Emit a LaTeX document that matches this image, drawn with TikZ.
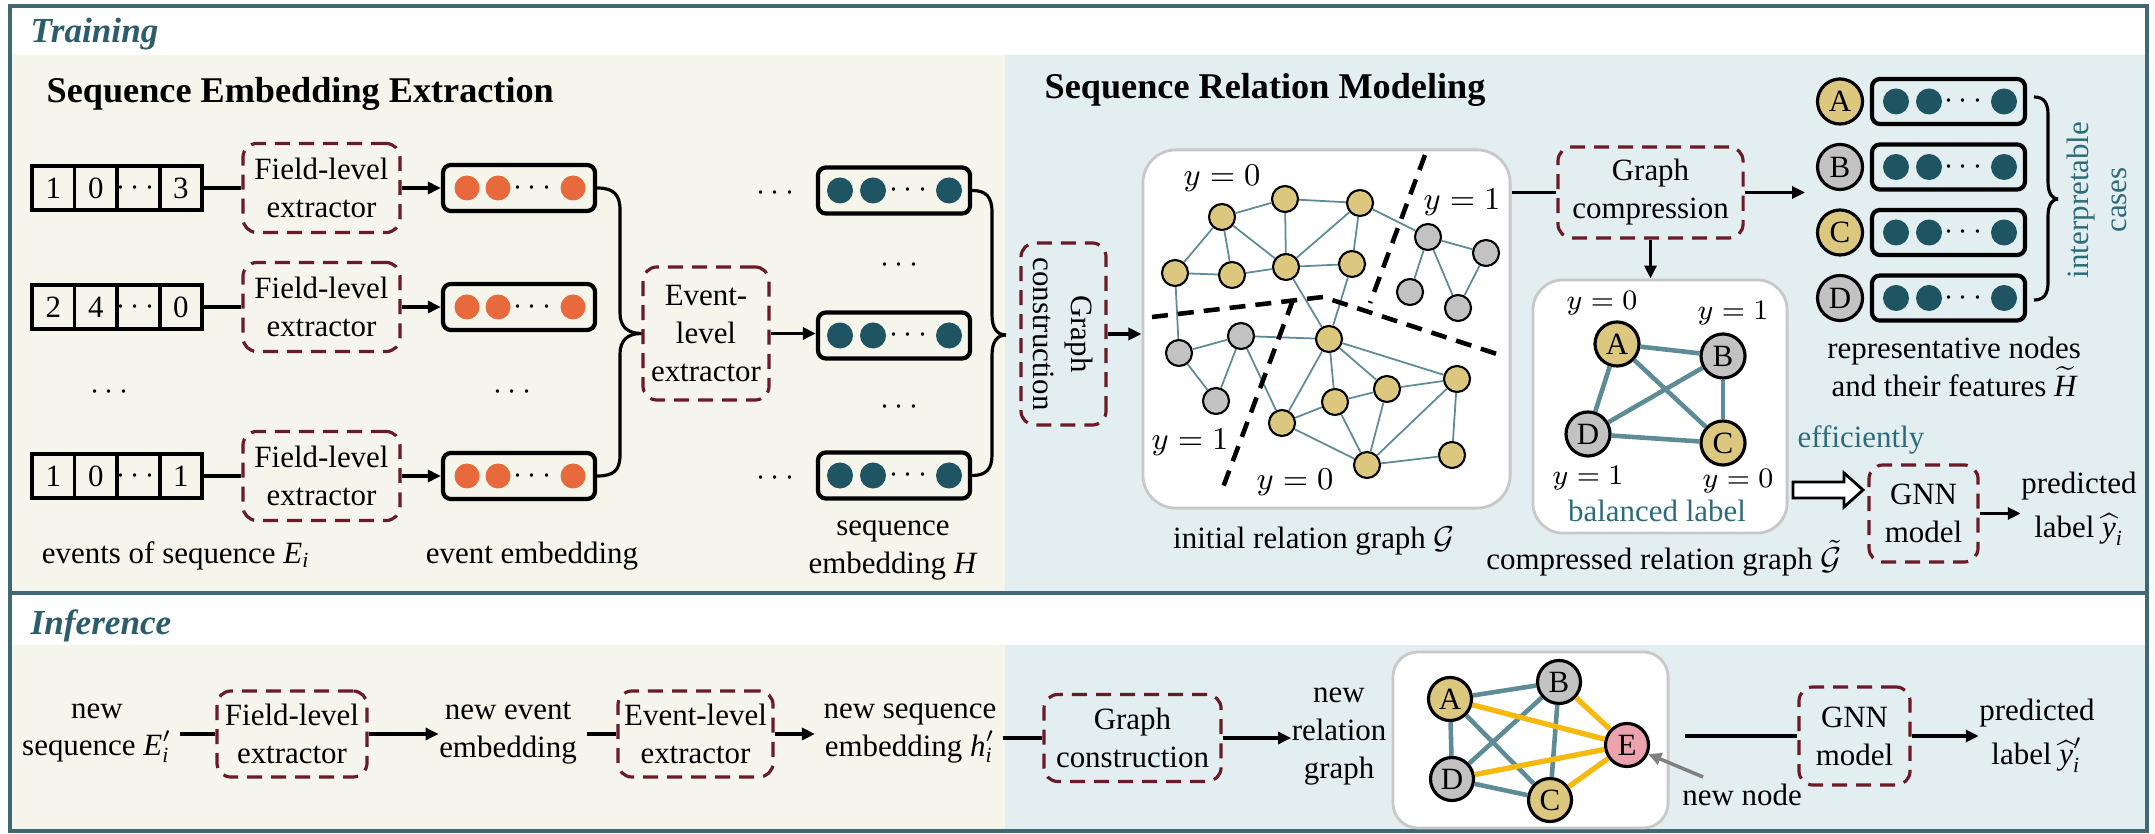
\documentclass[tikz,border=0pt]{standalone}
\usepackage{amsmath}
\usepackage{fontspec}
\setmainfont{Liberation Serif}
\usetikzlibrary{arrows.meta}
\definecolor{titleteal}{HTML}{2B5D6C}
\definecolor{framecol}{HTML}{3F6873}
\definecolor{beigebg}{HTML}{F6F5EC}
\definecolor{bluebg}{HTML}{E3EEF1}
\definecolor{dred}{HTML}{6B1A28}
\definecolor{orangec}{HTML}{E8693B}
\definecolor{dtealc}{HTML}{1F5563}
\definecolor{ynode}{HTML}{DCC77F}
\definecolor{gnode}{HTML}{C2C2C2}
\definecolor{edgecol}{HTML}{5D8C96}
\definecolor{goldc}{HTML}{F5B90F}
\definecolor{pinkc}{HTML}{ECA3AD}
\definecolor{labteal}{HTML}{2E6B7A}
\definecolor{gboxc}{HTML}{C8C8C8}
\newcommand{\ti}[1]{\textit{#1}}
\begin{document}
\begin{tikzpicture}[x=0.01cm,y=-0.01cm,
  font=\fontsize{8.8}{10.8}\selectfont,
  dbox/.style={draw=dred, line width=0.9pt, dash pattern=on 0.15cm off 0.09cm, rounded corners=0.14cm, align=center, inner sep=0pt},
  embbox/.style={draw=black, line width=1.2pt, rounded corners=0.08cm, minimum width=1.52cm, minimum height=0.46cm, inner sep=0pt},
  cell/.style={draw=black, line width=0.9pt, minimum width=0.425cm, minimum height=0.44cm, inner sep=0pt},
  odot/.style={circle, fill=orangec, minimum size=0.25cm, inner sep=0pt},
  tdot/.style={circle, fill=dtealc, minimum size=0.26cm, inner sep=0pt},
  yn/.style={circle, draw=black, line width=0.6pt, fill=ynode, minimum size=0.26cm, inner sep=0pt},
  gn/.style={circle, draw=black, line width=0.6pt, fill=gnode, minimum size=0.26cm, inner sep=0pt},
  ed/.style={draw=edgecol, line width=0.5pt},
  ted/.style={draw=edgecol, line width=1.3pt},
  gld/.style={draw=goldc, line width=1.5pt},
  big/.style={circle, draw=black, line width=0.9pt, minimum size=0.44cm, inner sep=0pt},
  arr/.style={-{Triangle[length=0.13cm,width=0.12cm]}, line width=0.9pt},
  ln/.style={line width=0.9pt},
  gbox/.style={draw=gboxc, line width=0.8pt, fill=white, inner sep=0pt},
  sepl/.style={draw=black, line width=1.3pt, dash pattern=on 0.16cm off 0.1cm},
  ttl/.style={font=\fontsize{10}{12}\selectfont\bfseries\itshape, text=titleteal, anchor=base west, inner sep=0pt},
  hd/.style={font=\fontsize{10.3}{12}\selectfont\bfseries, anchor=base west, inner sep=0pt},
  txt/.style={align=center, inner sep=0pt},
]
% backgrounds
\fill[white] (0,0) rectangle (2155,834);
\useasboundingbox (0,0) rectangle (2155,834);
\fill[beigebg] (11,55) rectangle (1005,592);
\fill[bluebg] (1005,55) rectangle (2146,592);
\fill[beigebg] (11,645) rectangle (1005,830);
\fill[bluebg] (1005,645) rectangle (2146,830);
\draw[framecol, line width=1pt] (10,6) rectangle (2147,831);
\draw[framecol, line width=1pt] (10,593) -- (2147,593);

% titles
\node[ttl] (tTrain) at (30,43) {Training};
\node[ttl] (tInf) at (30,635) {Inference};
\node[hd] (hSEE) at (46,103) {Sequence Embedding Extraction};
\node[hd] (hSRM) at (1044,99) {Sequence Relation Modeling};

% ---------- sequence embedding extraction ----------
\foreach \r/\y/\a/\b/\c in {1/188/1/0/3, 2/307/2/4/0, 3/476/1/0/1} {
  \node[cell] (s\r a) at (53.25,\y) {\a};
  \node[cell] (s\r b) at (95.75,\y) {\b};
  \node[cell] (s\r c) at (138.25,\y) {$\cdots$};
  \node[cell] (s\r d) at (180.75,\y) {\c};
  \node[dbox, minimum width=1.57cm, minimum height=0.89cm] (f\r) at (321.5,\y) {Field-level\\extractor};
  \node[embbox] (e\r) at (519,\y) {};
  \node[odot] (o\r a) at (467,\y) {};
  \node[odot] (o\r b) at (498,\y) {};
  \node[txt] (o\r t) at (535,\y) {$\cdots$};
  \node[odot] (o\r c) at (573,\y) {};
  \draw[ln] (s\r d.east) -- (f\r.west);
  \draw[arr] (f\r.east) -- (e\r.west);
}
\node[txt] (dl) at (112,392) {$\cdots$};
\node[txt] (dm) at (515,392) {$\cdots$};

\node[dbox, minimum width=1.26cm, minimum height=1.33cm] (ev) at (706,333.5) {Event-\\level\\extractor};
\draw[ln] (e1.east) .. controls (614,188) and (620,195) .. (620,210) -- (620,313) .. controls (620,326) and (627,333.5) .. (ev.west);
\draw[ln] (e3.east) .. controls (614,476) and (620,470) .. (620,455) -- (620,354) .. controls (620,341) and (627,333.5) .. (ev.west);

\foreach \r/\y in {1/190.5, 2/335.5, 3/475.5} {
  \node[embbox] (sb\r) at (894,\y) {};
  \node[tdot] (t\r a) at (840,\y) {};
  \node[tdot] (t\r b) at (873,\y) {};
  \node[txt] (t\r t) at (911,\y) {$\cdots$};
  \node[tdot] (t\r c) at (949,\y) {};
}
\node[txt] (dsl1) at (778,193) {$\cdots$};
\node[txt] (dsl3) at (778,478) {$\cdots$};
\node[txt] (dsm1) at (902,265) {$\cdots$};
\node[txt] (dsm2) at (902,407) {$\cdots$};
\draw[arr] (ev.east) -- (ev.east -| sb2.west);

\node[txt] (lb1) at (176,556) {events of sequence $\ti{E}_{\ti{i}}$};
\node[txt] (lb2) at (532,556) {event embedding};
\node[txt] (lb3) at (893,550) {sequence\\embedding \ti{H}};

% ---------- sequence relation modeling ----------
\coordinate (bt2) at (1006,335);
\draw[ln] (sb1.east) .. controls (986,190.5) and (992,197) .. (992,212) -- (992,315) .. controls (992,328) and (997,335) .. (bt2);
\draw[ln] (sb3.east) .. controls (986,475.5) and (992,469) .. (992,455) -- (992,355) .. controls (992,342) and (997,335) .. (bt2);

\node[dbox, rotate=-90, minimum width=1.82cm, minimum height=0.85cm] (gc) at (1063.5,334) {Graph\\construction};
\node[gbox, rounded corners=0.33cm, minimum width=3.67cm, minimum height=3.58cm] (ig) at (1326.5,329) {};
\draw[arr] (gc.north) -- (gc.north -| ig.west);

% initial graph nodes
\foreach \n/\x/\y in {n1/1222/217, n2/1285/199, n3/1360/203, n4/1175/273, n5/1232/275, n6/1286/267, n7/1352/264,
  m1/1329/339, m2/1457/379, m3/1387/389, m4/1335/402, m5/1282/423, m6/1367/465, m7/1452/455}
  \node[yn] (\n) at (\x,\y) {};
\foreach \n/\x/\y in {g1/1428/237, g2/1486/253, g3/1410/292, g4/1458/308, g5/1179/353, g6/1241/336, g7/1216/401}
  \node[gn] (\n) at (\x,\y) {};
\foreach \u/\v in {n1/n2, n2/n3, n1/n4, n1/n5, n1/n6, n2/n6, n4/n5, n5/n6, n6/n7, n6/n3, n3/n7, n3/g1,
  g1/g2, g1/g3, g1/g4, g2/g4, n4/g5, g5/g6, g5/g7, g6/g7, g6/m1, g6/m5, n6/m1, n7/m1,
  m1/m2, m1/m3, m1/m4, m1/m5, m5/m4, m4/m3, m3/m2, m5/m6, m4/m6, m3/m6, m2/m6, m2/m7, m6/m7}
  \draw[ed] (\u) -- (\v);
\draw[sepl] (1425,155) -- (1370,303);
\draw[sepl] (1152,317) -- (1323,297) -- (1500,355);
\draw[sepl] (1293,300) -- (1222,490);
\node[txt] (ly1) at (1222,178) {$y=0$};
\node[txt] (ly2) at (1462,202) {$y=1$};
\node[txt] (ly3) at (1190,442) {$y=1$};
\node[txt] (ly4) at (1295,482) {$y=0$};
\node[txt] (lb4) at (1314,541) {initial relation graph $\mathcal{G}$};

% compression
\node[dbox, minimum width=1.85cm, minimum height=0.91cm] (gcomp) at (1650.5,192.5) {Graph\\compression};
\draw[ln] (ig.east |- gcomp.west) -- (gcomp.west);
\coordinate (rp) at (1805,192.5);
\draw[arr] (gcomp.east) -- (rp);
\node[gbox, rounded corners=0.3cm, minimum width=2.54cm, minimum height=2.53cm] (cg) at (1660,406.5) {};
\draw[arr] (gcomp.south) -- (gcomp.south |- cg.north);

\node[big, fill=ynode] (cA) at (1617,344) {A};
\node[big, fill=gnode] (cB) at (1723,356) {B};
\node[big, fill=gnode] (cD) at (1588,434) {D};
\node[big, fill=ynode] (cC) at (1723,443) {C};
\foreach \u/\v in {cA/cB, cA/cD, cA/cC, cB/cD, cB/cC, cD/cC} \draw[ted] (\u) -- (\v);
\begin{scope}[font=\fontsize{8}{10}\selectfont]
\node[txt] (cy1) at (1602,303) {$y=0$};
\node[txt] (cy2) at (1733,313) {$y=1$};
\node[txt] (cy3) at (1588,478) {$y=1$};
\node[txt] (cy4) at (1738,481) {$y=0$};
\end{scope}
\node[txt, text=labteal] (bal) at (1657,511) {balanced label};
\node[txt] (lb5) at (1664,558) {compressed relation graph $\tilde{\mathcal{G}}$};

% representative nodes
\foreach \L/\y/\c in {A/101.5/ynode, B/167/gnode, C/232.5/ynode, D/298/gnode} {
  \node[big, fill=\c, minimum size=0.45cm] (r\L) at (1840,\y) {\L};
  \node[embbox, minimum width=1.53cm, minimum height=0.45cm] (rf\L) at (1948.5,\y) {};
  \node[tdot] (rd\L a) at (1896,\y) {};
  \node[tdot] (rd\L b) at (1929,\y) {};
  \node[txt] (rd\L t) at (1966,\y) {$\cdots$};
  \node[tdot] (rd\L c) at (2004,\y) {};
}
\coordinate (b3a) at (2034,97);
\coordinate (b3b) at (2034,300);
\coordinate (b3t) at (2058,199);
\draw[ln] (b3a) .. controls (2044,97) and (2048,103) .. (2048,115) -- (2048,182) .. controls (2048,193) and (2052,199) .. (b3t);
\draw[ln] (b3b) .. controls (2044,300) and (2048,294) .. (2048,282) -- (2048,216) .. controls (2048,205) and (2052,199) .. (b3t);
\node[txt, rotate=90, text=labteal] (ic) at (2097,200) {interpretable\\cases};
\node[txt] (rep) at (1954,367) {representative nodes\\and their features $\widetilde{\ti{H}}$};

% GNN training
\node[txt, text=labteal] (eff) at (1861,440) {efficiently};
\draw[fill=white, line width=0.8pt] (1793,482) -- (1844,482) -- (1844,473) -- (1863,490) -- (1844,507) -- (1844,498) -- (1793,498) -- cycle;
\node[dbox, minimum width=1.09cm, minimum height=0.97cm] (gnn) at (1923.5,513.5) {GNN\\model};
\node[txt] (pl) at (2079,509) {predicted\\[1.5pt]label $\widehat{\ti{y}}_{\ti{i}}$};
\draw[arr] (gnn.east) -- (gnn.east -| pl.west);

% ---------- inference ----------
\node[txt] (iE) at (97,733) {new\\sequence $\ti{E}'_{\ti{i}}$};
\node[dbox, minimum width=1.5cm, minimum height=0.86cm] (iF) at (292,734) {Field-level\\extractor};
\node[txt] (iEE) at (508,733) {new event\\embedding};
\node[dbox, minimum width=1.55cm, minimum height=0.86cm] (iV) at (695.5,734) {Event-level\\extractor};
\node[txt] (iS) at (910,733) {new sequence\\embedding $\ti{h}'_{\ti{i}}$};
\node[dbox, minimum width=1.77cm, minimum height=0.87cm] (iG) at (1132.5,738) {Graph\\construction};
\node[txt] (iR) at (1339,737) {new\\relation\\graph};
\node[gbox, rounded corners=0.25cm, minimum width=2.75cm, minimum height=1.76cm] (iGB) at (1530.5,740) {};
\node[big, fill=ynode, minimum size=0.43cm] (iA) at (1450,699) {A};
\node[big, fill=gnode, minimum size=0.43cm] (iB) at (1559,682) {B};
\node[big, fill=gnode, minimum size=0.43cm] (iD) at (1452,779) {D};
\node[big, fill=ynode, minimum size=0.43cm] (iC) at (1550,800) {C};
\node[big, fill=pinkc, minimum size=0.43cm] (iX) at (1627,745) {E};
\foreach \u/\v in {iA/iB, iA/iD, iA/iC, iB/iD, iB/iC, iD/iC} \draw[ted] (\u) -- (\v);
\foreach \u in {iA, iB, iD, iC} \draw[gld] (\u) -- (iX);
\coordinate (nnA) at (1703,777);
\draw[-{Triangle[length=0.13cm,width=0.12cm]}, draw=gray, fill=gray, line width=1pt] (nnA) -- (iX);
\node[txt] (nn) at (1742,795) {new node};
\coordinate (iL) at (1685,736);
\node[dbox, minimum width=1.11cm, minimum height=0.98cm] (iN) at (1854.5,736) {GNN\\model};
\node[txt] (iP) at (2037,736) {predicted\\[1.5pt]label $\widehat{\ti{y}}'_{\ti{i}}$};

\draw[ln, shorten <=0.08cm] (iE.east |- iF.west) -- (iF.west);
\draw[arr] (iF.east) -- (iF.east -| iEE.west);
\draw[ln, shorten <=0.1cm] (iEE.east |- iV.west) -- (iV.west);
\draw[arr, shorten >=0.08cm] (iV.east) -- (iV.east -| iS.west);
\draw[ln, shorten <=0.06cm] (iS.east |- iG.west) -- (iG.west);
\draw[arr] (iG.east) -- (iG.east -| iR.west);
\draw[ln] (iL) -- (iN.west);
\draw[arr] (iN.east) -- (iN.east -| iP.west);
\end{tikzpicture}
\end{document}
